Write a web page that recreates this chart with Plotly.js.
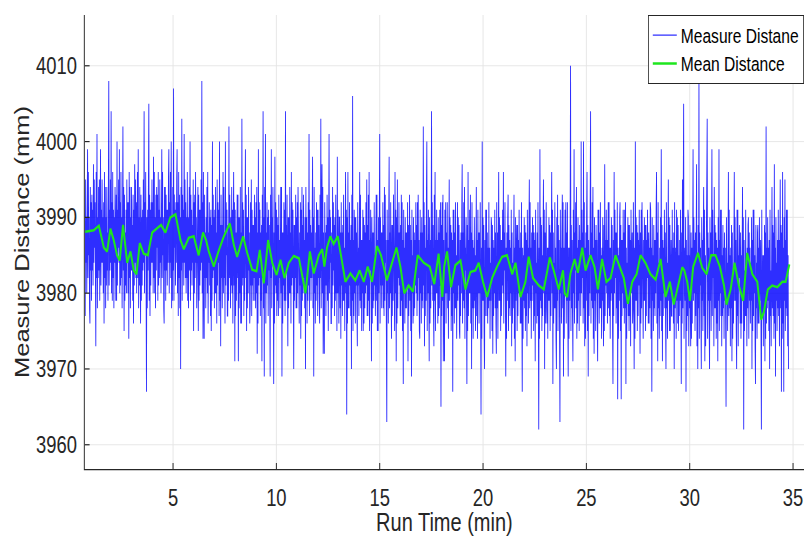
<!DOCTYPE html>
<html><head><meta charset="utf-8">
<script src="https://cdn.plot.ly/plotly-3.0.1.min.js"></script>
<style>
html,body{margin:0;padding:0;background:#fff;width:804px;height:536px;overflow:hidden}
#chart{width:1005px;height:536px;transform:scaleX(0.8);transform-origin:0 0}
</style>
</head><body><div id="chart"></div>
<script>
// ---- data ----
const startTime = 0.75;      // min, first sample
const sampleStep = 0.019;    // min between samples
const measureDist = [
 3977,3995,3984, 3990,3980,3992, 3999,3982,3996, 3985,3990,3978, 3976,3994,3983, 3992,3979,3993, 3983,3991,3981, 3997,3984,3995,
 3986,3992,3980, 3973,3996,3982, 4001,3978,3990, 3982,3994,3983, 3995,3979,3993, 3999,3981,3991, 3984,3995,3984, 3990,3980,3992,
 3976,3996,3982, 3994,3978,3990, 3981,3994,3983, 3988,3979,3993, 4008,3981,3991, 3983,3995,3984, 4004,3980,3992, 3979,3996,3982,
 3991,3978,3990, 3984,3994,3983, 3979,3993,3979, 4000,3981,3991, 3986,3995,3984, 3999,3980,3992, 3981,3996,3982, 3990,3978,3990,
 4002,3983,3994, 3975,3993,3979, 3988,3981,3991, 3980,3995,3984, 3992,3980,3992, 3974,3996,3982, 3994,3978,3990, 3983,3994,3983,
 3989,3979,3993, 3976,3991,3981, 3997,3984,3995, 3982,3992,3980, 3987,3996,3982, 3999,3978,3990, 3981,3994,3983, 3976,3993,3979,
 3990,3981,3991, 3983,3995,3984, 4004,3980,3992, 3985,3996,3982, 3967,3990,3978, 3991,3983,3994, 4005,3979,3993, 3977,3991,3981,
 3992,3984,3995, 3984,3992,3980, 3998,3982,3996, 3980,3990,3978, 3993,3983,3994, 3986,3993,3979, 3996,3981,3991, 3982,3995,3984,
 3990,3980,3992, 3999,3982,3996, 3985,3990,3978, 3976,3994,3983, 3994,3979,3993, 3983,3991,3981, 3991,3984,3995, 3999,3980,3992,
 3984,3996,3982, 4000,3978,3990, 3979,3994,3983, 4007,3979,3993, 3986,3991,3981, 3992,3984,3995, 3999,3980,3992, 3977,3996,3982,
 3993,3978,3990, 3970,3994,3983, 4003,3979,3993, 3984,3991,3981, 4001,3984,3995, 3982,3992,3980, 3990,3982,3996, 3979,3990,3978,
 3987,3994,3983, 4000,3979,3993, 3983,3991,3981, 3989,3984,3995, 3975,3992,3980, 3993,3982,3996, 3984,3990,3978, 3988,3983,3994,
 3975,3993,3979, 3991,3981,3991, 3983,3995,3984, 4008,3980,3992, 3974,3996,3982,
 3974,3993,3982, 3988,3978,3990, 3982,3994,3980, 3996,3976,3988, 3984,3992,3981, 3990,3977,3991, 3975,3989,3979, 4000,3982,3993,
 3983,3990,3978, 3991,3980,3994, 3980,3988,3976, 3995,3981,3992, 3984,3991,3977, 4000,3979,3989, 3973,3993,3982, 3989,3978,3990,
 3996,3980,3994, 3982,3988,3976, 4000,3981,3992, 3985,3991,3977, 3977,3989,3979, 4002,3982,3993, 3986,3978,3990, 3981,3994,3980,
 3991,3976,3988, 3996,3981,3992, 3971,3991,3977, 3988,3979,3989, 3993,3982,3993, 3971,3990,3978, 3990,3980,3994, 3976,3988,3976,
 4003,3981,3992, 3982,3991,3977, 3987,3979,3989, 3999,3982,3993, 3975,3990,3978, 3990,3980,3994, 3983,3988,3976, 3978,3992,3981,
 3995,3977,3991, 3981,3989,3979, 3989,3982,3993, 3979,3990,3978, 3992,3980,3994, 3972,3988,3976, 3999,3981,3992, 3982,3991,3977,
 3988,3979,3989, 3971,3993,3982, 4004,3978,3990, 3969,3994,3980, 4001,3976,3988, 3980,3992,3981, 3990,3977,3991, 3983,3989,3979,
 3969,3993,3982, 3999,3978,3990, 3984,3994,3980, 3968,3988,3976, 3998,3981,3992, 3980,3991,3977, 3990,3979,3989, 3977,3993,3982,
 3987,3978,3990, 3994,3980,3994, 3969,3988,3976, 3988,3981,3992, 3979,3991,3977, 4004,3979,3989, 3983,3993,3982, 3973,3990,3978,
 3990,3980,3994, 3980,3988,3976, 3996,3981,3992, 3982,3991,3977, 3970,3989,3979, 3989,3982,3993, 3978,3990,3978, 3992,3980,3994,
 3983,3988,3976, 3988,3981,3992, 3974,3991,3977, 3994,3979,3989, 3980,3993,3982, 3987,3978,3990, 3970,3994,3980, 3990,3976,3988,
 3979,3992,3981, 4001,3977,3991, 3982,3989,3979, 3988,3982,3993, 3998,3978,3990, 3969,3994,3980, 3986,3976,3988, 3979,3992,3981,
 3991,3977,3991, 3982,3989,3979, 3976,3993,3982, 4003,3978,3990, 3997,3980,3994, 3972,3988,3976,
 3972,3992,3981, 3988,3977,3989, 3981,3993,3979, 3990,3975,3987, 4001,3980,3991, 3984,3990,3976, 3976,3988,3978, 3994,3981,3992,
 3983,3989,3977, 3990,3979,3993, 3980,3987,3975, 3998,3980,3991, 3985,3976,3990, 3990,3978,3988, 3974,3992,3981, 3988,3977,3989,
 3979,3993,3979, 3986,3975,3987, 3996,3980,3991, 3964,3990,3976, 3996,3978,3988, 3978,3992,3981, 3987,3977,3989, 3970,3993,3979,
 4006,3975,3987, 3977,3991,3980, 3990,3976,3990, 3981,3988,3978, 3973,3992,3981, 3986,3977,3989, 3996,3979,3993, 3978,3987,3975,
 3987,3980,3991, 3975,3990,3976, 3989,3978,3988, 3980,3992,3981, 3995,3977,3989, 3977,3993,3979, 3996,3975,3987, 3983,3991,3980,
 3971,3990,3976, 3988,3978,3988, 3979,3992,3981, 3985,3977,3989, 3993,3979,3993, 3975,3987,3975, 3990,3980,3991, 4001,3976,3990,
 3981,3988,3978, 3988,3981,3992, 3978,3989,3977, 3994,3979,3993, 3984,3987,3975, 3963,3991,3980, 3987,3976,3990, 3998,3978,3988,
 3980,3992,3981, 3974,3989,3977, 3989,3979,3993, 3983,3987,3975, 3996,3980,3991, 3971,3990,3976, 3995,3978,3988, 3982,3992,3981,
 3988,3977,3989, 3977,3993,3979, 3992,3975,3987, 3968,3991,3980, 3986,3976,3990, 3978,3988,3978, 3988,3981,3992, 3971,3989,3977,
 3983,3993,3979, 3989,3975,3987, 3969,3991,3980, 3985,3976,3990, 3977,3988,3978, 3987,3981,3992, 3980,3989,3977, 3992,3979,3993,
 3982,3987,3975, 3974,3991,3980, 3988,3976,3990, 3979,3988,3978, 4002,3981,3992, 3973,3989,3977, 3986,3979,3993, 4000,3975,3987,
 3980,3991,3980, 3971,3990,3976, 3987,3978,3988, 4004,3981,3992, 3979,3989,3977, 3973,3993,3979, 3996,3975,3987, 3980,3991,3980,
 3987,3976,3990, 3977,3988,3978, 3991,3981,3992, 3965,3989,3977, 3992,3979,3993, 3971,3987,3975,
 3971,3991,3980, 3992,3976,3988, 3980,3992,3978, 3986,3974,3986, 3995,3979,3990, 3982,3989,3975, 3988,3977,3987, 3967,3991,3980,
 3991,3976,3988, 3978,3992,3978, 3985,3974,3986, 3992,3979,3990, 3981,3989,3975, 3974,3987,3977, 3988,3980,3991, 3997,3976,3988,
 3979,3992,3978, 3994,3974,3986, 3983,3990,3979, 3968,3989,3975, 3996,3977,3987, 3980,3991,3980, 3993,3976,3988, 3970,3992,3978,
 3987,3974,3986, 3978,3990,3979, 3985,3975,3989, 3994,3977,3987, 3974,3991,3980, 3988,3976,3988, 3980,3992,3978, 3964,3986,3974,
 4000,3979,3990, 3979,3989,3975, 3970,3987,3977, 3991,3980,3991, 3977,3988,3976, 3986,3978,3992, 3979,3986,3974, 3984,3979,3990,
 3989,3975,3989, 3972,3987,3977, 3986,3980,3991, 3978,3988,3976, 3972,3992,3978, 3988,3974,3986, 3996,3979,3990, 3979,3989,3975,
 3987,3977,3987, 3981,3991,3980, 3996,3976,3988, 3983,3992,3978, 3969,3986,3974, 3988,3979,3990, 3993,3975,3989, 3978,3987,3977,
 3986,3980,3991, 3973,3988,3976, 3984,3978,3992, 3993,3974,3986, 3971,3990,3979, 3982,3989,3975, 3989,3977,3987, 3980,3991,3980,
 3986,3976,3988, 3976,3992,3978, 3967,3986,3974, 3985,3979,3990, 3978,3989,3975, 3988,3977,3987, 3973,3991,3980, 3986,3976,3988,
 3995,3978,3992, 3979,3986,3974, 3988,3979,3990, 3981,3989,3975, 3988,3977,3987, 3971,3991,3980, 3984,3976,3988, 3977,3992,3978,
 3962,3986,3974, 3999,3979,3990, 3978,3989,3975, 3985,3977,3987, 3995,3980,3991, 3970,3988,3976, 3983,3992,3978, 3976,3986,3974,
 3986,3979,3990, 3979,3989,3975, 3988,3977,3987, 3996,3980,3991, 3968,3988,3976, 3984,3978,3992, 3978,3986,3974, 3970,3990,3979,
 3993,3975,3989, 3981,3987,3977, 3963,3991,3980, 3986,3976,3988, 3993,3978,3992, 3969,3986,3974,
 3983,3991,3980, 3992,3976,3988, 3979,3992,3978, 3969,3986,3974, 3986,3979,3990, 4010,3975,3989, 3978,3987,3977, 3971,3991,3980,
 3999,3976,3988, 3983,3992,3978, 3994,3974,3986, 3976,3990,3979, 3987,3975,3989, 3980,3987,3977, 4000,3980,3991, 3982,3988,3976,
 4000,3978,3992, 3973,3986,3974, 3988,3979,3990, 3996,3975,3989, 3969,3987,3977, 3985,3980,3991, 4004,3976,3988, 3979,3992,3978,
 3994,3974,3986, 3972,3990,3979, 3987,3975,3989, 3980,3987,3977, 3971,3991,3980, 3991,3976,3988, 3978,3992,3978, 3985,3974,3986,
 3979,3990,3979, 3973,3989,3975, 3997,3977,3987, 3981,3991,3980, 3987,3976,3988, 3992,3978,3992, 3977,3986,3974, 3986,3979,3990,
 3980,3989,3975, 3968,3987,3977, 3996,3980,3991, 3982,3988,3976, 3988,3978,3992, 3966,3986,3974, 3985,3979,3990, 3992,3975,3989,
 3966,3987,3977, 3987,3980,3991, 3978,3988,3976, 3991,3978,3992, 3968,3986,3974, 3984,3979,3990, 3977,3989,3975, 3989,3977,3987,
 3973,3991,3980, 3983,3988,3976, 3978,3992,3978, 3970,3986,3974, 4000,3979,3990, 3979,3989,3975, 3988,3977,3987, 3981,3991,3980,
 3972,3988,3976, 3991,3978,3992, 3980,3986,3974, 3987,3979,3990, 3979,3989,3975, 3989,3977,3987, 3982,3991,3980, 3976,3988,3976,
 3986,3978,3992, 3991,3974,3986, 3967,3990,3979, 3985,3975,3989, 3978,3987,3977, 3987,3980,3991, 3996,3976,3988, 3971,3992,3978,
 3984,3974,3986, 3977,3990,3979, 3999,3975,3989, 3971,3987,3977, 3986,3980,3991, 3978,3988,3976, 3970,3992,3978, 3984,3974,3986,
 3995,3979,3990, 3975,3989,3975, 3983,3987,3977, 3977,3991,3980, 3986,3976,3988, 3970,3992,3978, 3982,3986,3974, 3991,3979,3990,
 3976,3989,3975, 3985,3977,3987, 3979,3991,3980, 3968,3988,3976, 3995,3978,3992, 4005,3974,3986,
 3984,3979,3990, 3967,3987,3975, 3985,3977,3991, 3990,3973,3985, 3978,3989,3978, 3973,3988,3974, 3986,3976,3986, 3999,3979,3990,
 3980,3987,3975, 3988,3977,3991, 3997,3973,3985, 3970,3989,3978, 4009,3974,3988, 3981,3986,3976, 3970,3990,3979, 3987,3975,3987,
 3994,3977,3991, 3971,3985,3973, 3983,3978,3989, 4003,3974,3988, 3979,3986,3976, 3970,3990,3979, 3988,3975,3987, 3999,3977,3991,
 3982,3985,3973, 3994,3978,3989, 3978,3988,3974, 3987,3976,3986, 3971,3990,3979, 3999,3975,3987, 3980,3991,3977, 3991,3973,3985,
 3977,3989,3978, 3986,3974,3988, 3979,3986,3976, 3965,3990,3979, 3984,3975,3987, 3996,3977,3991, 3978,3985,3973, 3986,3978,3989,
 3971,3988,3974, 3983,3976,3986, 3996,3979,3990, 3979,3987,3975, 3970,3991,3977, 3991,3973,3985, 3982,3989,3978, 3976,3988,3974,
 3985,3976,3986, 3994,3979,3990, 3962,3987,3975, 3983,3977,3991, 3977,3985,3973, 3986,3978,3989, 3990,3974,3988, 3979,3986,3976,
 3984,3979,3990, 3970,3987,3975, 3991,3977,3991, 3980,3985,3973, 3968,3989,3978, 3984,3974,3988, 3989,3976,3986, 3976,3990,3979,
 3982,3987,3975, 3962,3991,3977, 3979,3985,3973, 3985,3978,3989, 3971,3988,3974, 4002,3976,3986, 3978,3990,3979, 3986,3975,3987,
 3970,3991,3977, 3983,3973,3985, 3994,3978,3989, 3977,3988,3974, 3997,3976,3986, 3969,3990,3979, 3984,3975,3987, 3978,3991,3977,
 3987,3973,3985, 3995,3978,3989, 3967,3988,3974, 3996,3976,3986, 3967,3990,3979, 3995,3975,3987, 3978,3991,3977, 3991,3973,3985,
 3970
];
const meanTime = [
 0.75,0.92,1.16,1.41,1.65,1.81,1.97,2.13,2.29,2.42,2.58,2.78,2.94,3.10,3.23,3.39,3.58,3.78,3.99,4.20,
 4.42,4.63,4.87,5.12,5.36,5.52,5.76,6.00,6.24,6.45,
 6.60,6.73,6.97,7.22,7.46,7.75,7.94,8.10,8.39,8.59,8.83,9.04,9.20,9.39,9.60,9.80,10.01,10.20,10.39,10.60,
 10.84,11.09,11.41,11.62,11.81,12.05,12.22,
 12.32,12.45,12.61,12.77,12.97,13.18,13.34,13.58,13.82,14.03,14.23,14.42,14.63,14.87,15.06,15.35,15.60,15.81,
 16.00,16.19,16.40,16.61,16.84,17.13,17.42,17.64,17.85,18.03,
 18.12,18.26,18.45,18.66,18.91,19.15,19.39,19.63,19.79,20.00,20.20,20.44,20.68,20.92,21.16,21.41,21.57,21.81,
 22.05,22.21,22.42,22.70,22.94,23.23,23.42,23.66,23.87,
 23.95,24.07,24.23,24.43,24.59,24.80,24.96,25.20,25.39,25.56,25.76,25.97,26.17,26.41,26.62,26.81,27.01,27.22,
 27.43,27.62,27.86,28.10,28.35,28.59,28.83,29.04,29.23,29.43,29.64,
 29.74,29.88,30.01,30.17,30.40,30.61,30.82,31.04,31.25,31.46,31.66,31.78,31.98,32.17,32.38,32.59,32.78,33.03,
 33.27,33.46,33.59,33.78,33.99,34.24,34.48,34.64,34.82
];
const meanDist = [
 3988.1,3988.2,3988.3,3988.9,3986.0,3985.5,3988.5,3987.0,3985.0,3984.3,3989.0,3984.0,3985.5,3983.0,3982.5,3986.6,3985.2,3985.0,3988.0,3988.5,
 3989.0,3988.0,3990.0,3990.4,3987.0,3985.8,3987.3,3987.5,3985.0,3988.0,
 3987.0,3985.5,3983.5,3985.7,3987.5,3989.2,3986.4,3984.8,3987.5,3985.3,3983.1,3982.9,3985.7,3981.3,3987.0,3984.0,3982.4,3984.4,3982.0,3984.0,
 3984.9,3984.6,3980.0,3985.5,3982.6,3985.0,3985.8,
 3983.5,3986.0,3987.5,3986.5,3987.5,3984.0,3981.5,3982.6,3981.7,3983.0,3981.5,3983.5,3981.5,3986.2,3985.0,3981.7,3984.0,3986.0,
 3983.5,3980.0,3981.0,3980.2,3985.0,3984.0,3983.5,3981.2,3985.2,3979.5,
 3983.5,3985.5,3980.8,3983.7,3984.3,3980.5,3982.8,3983.0,3984.0,3981.5,3979.5,3982.0,3983.5,3984.8,3985.0,3982.5,3984.0,3979.5,
 3981.5,3984.8,3982.0,3981.0,3980.5,3984.7,3983.0,3980.5,3983.0,
 3980.0,3979.5,3982.6,3984.5,3982.7,3986.0,3983.0,3985.0,3983.5,3980.5,3984.5,3981.5,3982.0,3985.0,3983.5,3982.0,3978.6,3981.5,
 3982.5,3985.0,3984.0,3982.5,3981.8,3984.5,3979.5,3981.5,3978.5,3981.0,3983.4,
 3983.0,3981.5,3979.0,3983.5,3985.3,3983.3,3982.5,3985.0,3985.0,3983.5,3981.0,3978.5,3980.5,3984.0,3981.0,3979.0,3985.3,3982.5,
 3981.5,3976.5,3977.5,3980.5,3981.0,3980.8,3981.5,3981.5,3983.8
];
const xTickVals = [5, 10, 15, 20, 25, 30, 35];
const yTickVals = [3960, 3970, 3980, 3990, 4000, 4010];
const seriesNames = ['Measure Distane', 'Mean Distance'];
const xTitle = 'Run Time (min)';
const yTitle = 'Measure Distance (mm)';

// ---- chart ----
// The reference figure is horizontally squeezed (~0.8); the chart is drawn at
// full width and squeezed by CSS so glyph proportions match.
const FONT = '"Liberation Sans", Arial, Helvetica, sans-serif';
const traces = [
  {
    type: 'scatter', mode: 'lines', name: seriesNames[0],
    x0: startTime, dx: sampleStep, y: measureDist,
    line: {color: 'rgba(0,0,255,0.82)', width: 1.15}
  },
  {
    type: 'scatter', mode: 'lines', name: seriesNames[1],
    x: meanTime, y: meanDist,
    line: {color: '#1ee61e', width: 2.5}
  }
];
const axisCommon = {
  showline: true, linecolor: '#262626', linewidth: 1.2,
  ticks: 'inside', ticklen: 6, tickcolor: '#262626', tickwidth: 1.2,
  showgrid: true, gridcolor: '#e4e4e4', gridwidth: 1,
  zeroline: false, mirror: false,
  tickfont: {family: FONT, size: 23, color: '#262626'}
};
const layout = {
  width: 1005, height: 536,
  margin: {l: 106, r: 0, t: 15, b: 67},
  paper_bgcolor: '#ffffff', plot_bgcolor: '#ffffff',
  showlegend: true,
  legend: {
    x: 1, xanchor: 'right', y: 1, yanchor: 'top',
    bgcolor: '#ffffff', bordercolor: '#262626', borderwidth: 1,
    font: {family: FONT, size: 19.5, color: '#000000'}
  },
  xaxis: Object.assign({}, axisCommon, {
    range: [0.73, 35.53], tickvals: xTickVals, ticktext: xTickVals.map(String),
    ticklabelstandoff: 8,
    title: {text: xTitle, font: {family: FONT, size: 25, color: '#262626'}, standoff: 2}
  }),
  yaxis: Object.assign({}, axisCommon, {
    range: [3956.8, 4016.7], tickvals: yTickVals, ticktext: yTickVals.map(String),
    ticklabelstandoff: 4,
    title: {text: yTitle + '\u00a0\u00a0\u00a0', font: {family: FONT, size: 25.5, color: '#262626'}, standoff: 0}
  })
};
Plotly.newPlot('chart', traces, layout, {displayModeBar: false, staticPlot: true});
</script>
</body></html>
